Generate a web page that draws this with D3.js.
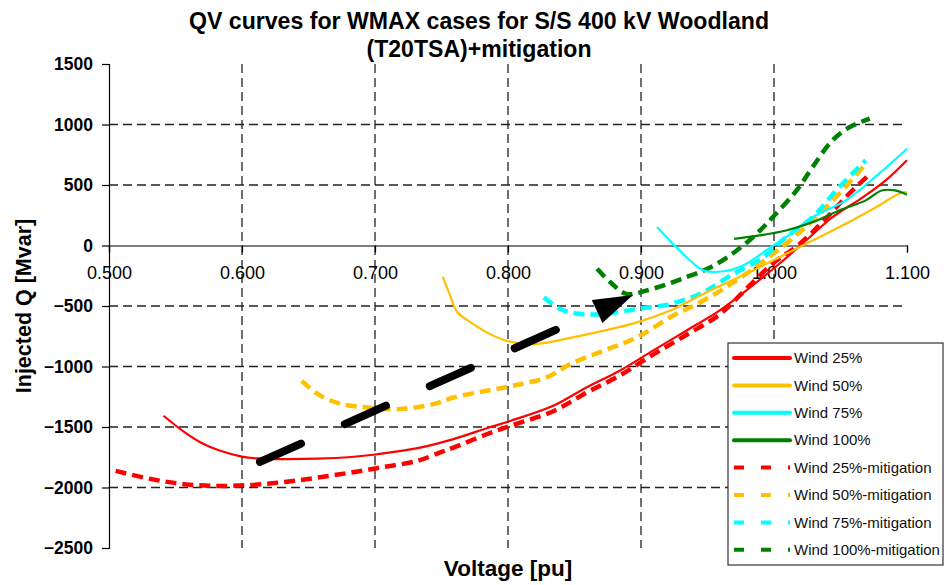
<!DOCTYPE html>
<html>
<head>
<meta charset="utf-8">
<script src="https://cdn.jsdelivr.net/npm/d3@7"></script>
<style>
    body { margin: 0; background: #fff; }
    svg { font-family: "Liberation Sans", Arial, sans-serif; }
</style>
</head>
<body>
<div class="viz"></div>
<script>
// QV curves (voltage in pu, Q in Mvar)

const seriesNames = [
    "Wind 25%", "Wind 50%", "Wind 75%", "Wind 100%",
    "Wind 25%-mitigation", "Wind 50%-mitigation", "Wind 75%-mitigation", "Wind 100%-mitigation",
];
const seriesColors = ["#ff0000", "#ffc000", "#00ffff", "#008000", "#ff0000", "#ffc000", "#00ffff", "#008000"];

const wind25_v = [0.541, 0.557, 0.570, 0.582, 0.600, 0.612, 0.632, 0.657, 0.682, 0.702, 0.732, 0.759, 0.784, 0.802, 0.834, 0.859, 0.884, 0.909, 0.934, 0.959, 0.979, 1.004, 1.024, 1.044, 1.067, 1.084, 1.100];
const wind25_q = [-1407, -1545, -1635, -1690, -1745, -1760, -1766, -1762, -1748, -1725, -1675, -1600, -1510, -1449, -1325, -1173, -1035, -869, -704, -538, -373, -151, 41, 234, 400, 538, 704];

const wind50_v = [0.751, 0.756, 0.762, 0.772, 0.784, 0.797, 0.809, 0.822, 0.847, 0.872, 0.897, 0.922, 0.947, 0.979, 1.004, 1.029, 1.054, 1.079, 1.094, 1.100];
const wind50_q = [-257, -400, -552, -635, -718, -781, -809, -814, -764, -704, -635, -538, -400, -234, -97, 41, 180, 331, 428, 441];

const wind75_v = [0.912, 0.924, 0.937, 0.947, 0.962, 0.979, 0.994, 1.009, 1.029, 1.054, 1.079, 1.100];
const wind75_q = [152, 14, -124, -207, -213, -152, -41, 69, 234, 373, 594, 800];

const wind100_v = [0.970, 0.989, 1.009, 1.029, 1.049, 1.069, 1.081, 1.091, 1.100];
const wind100_q = [55, 83, 124, 193, 290, 373, 455, 455, 420];

const wind25m_v = [0.505, 0.532, 0.557, 0.582, 0.607, 0.632, 0.657, 0.682, 0.707, 0.732, 0.749, 0.759, 0.784, 0.802, 0.834, 0.859, 0.884, 0.909, 0.934, 0.959, 0.979, 1.000, 1.018, 1.037, 1.054, 1.072];
const wind25m_q = [-1863, -1931, -1973, -1987, -1979, -1954, -1918, -1876, -1830, -1780, -1710, -1670, -1560, -1490, -1370, -1217, -1075, -902, -740, -571, -360, -140, 0, 200, 400, 590];

const wind50m_v = [0.645, 0.657, 0.675, 0.695, 0.719, 0.744, 0.759, 0.784, 0.804, 0.829, 0.847, 0.872, 0.897, 0.922, 0.947, 0.975, 1.009, 1.029, 1.049, 1.069];
const wind50m_q = [-1118, -1228, -1311, -1339, -1352, -1311, -1256, -1200, -1159, -1090, -979, -869, -759, -593, -455, -265, 14, 207, 428, 676];

const wind75m_v = [0.827, 0.839, 0.854, 0.872, 0.897, 0.922, 0.947, 0.967, 0.992, 1.009, 1.029, 1.049, 1.069];
const wind75m_q = [-428, -524, -566, -566, -524, -483, -386, -250, -97, 69, 234, 483, 704];

const wind100m_v = [0.867, 0.877, 0.889, 0.904, 0.934, 0.954, 0.972, 0.987, 0.999, 1.017, 1.029, 1.044, 1.057, 1.072];
const wind100m_q = [-193, -304, -400, -373, -262, -170, -41, 97, 234, 455, 648, 869, 979, 1049];

const xTicks = [0.5, 0.6, 0.7, 0.8, 0.9, 1.0, 1.1];
const yTicks = [1500, 1000, 500, 0, -500, -1000, -1500, -2000, -2500];

// black arrow annotation (data coords)
const arrowLine = [[0.6135, -1789], [0.867, -545]];
const arrowHead = [[0.863, -450], [0.894, -409], [0.871, -640]];

const seriesV = [wind25_v, wind50_v, wind75_v, wind100_v, wind25m_v, wind50m_v, wind75m_v, wind100m_v];
const seriesQ = [wind25_q, wind50_q, wind75_q, wind100_q, wind25m_q, wind50m_q, wind75m_q, wind100m_q];

var width = 947,
    height = 585,
    plot = { left: 109, right: 907, top: 64, bottom: 548 };

var x = d3.scaleLinear().domain([0.5, 1.1]).range([plot.left, plot.right]);
var y = d3.scaleLinear().domain([-2500, 1500]).range([plot.bottom, plot.top]);

var svg = d3
    .select(".viz")
    .append("svg")
    .attr("width", width)
    .attr("height", height);

/**
 * Title
 */
svg.append("text")
    .attr("x", 479)
    .attr("y", 29)
    .attr("text-anchor", "middle")
    .attr("font-size", 23.5)
    .attr("font-weight", "bold")
    .attr("textLength", 580)
    .attr("lengthAdjust", "spacingAndGlyphs")
    .text("QV curves for WMAX cases for S/S 400 kV Woodland");

svg.append("text")
    .attr("x", 479)
    .attr("y", 57)
    .attr("text-anchor", "middle")
    .attr("font-size", 23.5)
    .attr("font-weight", "bold")
    .attr("textLength", 225)
    .attr("lengthAdjust", "spacingAndGlyphs")
    .text("(T20TSA)+mitigation");

/**
 * Gridlines
 */
var grid = svg.append("g").attr("class", "grid");
grid.selectAll("line.vg")
    .data(xTicks.filter((d) => d > 0.5 && d < 1.1))
    .enter()
    .append("line")
    .attr("x1", (d) => x(d))
    .attr("x2", (d) => x(d))
    .attr("y1", plot.top)
    .attr("y2", plot.bottom)
    .attr("stroke", "#222")
    .attr("stroke-width", 1.3)
    .attr("stroke-dasharray", "9,5");

grid.selectAll("line.hg")
    .data(yTicks.filter((d) => d !== 0 && d < 1500 && d > -2500))
    .enter()
    .append("line")
    .attr("x1", plot.left)
    .attr("x2", plot.right)
    .attr("y1", (d) => y(d))
    .attr("y2", (d) => y(d))
    .attr("stroke", "#222")
    .attr("stroke-width", 1.3)
    .attr("stroke-dasharray", "9,5");

/**
 * Axes
 */
var yAxis = svg.append("g")
    .attr("transform", `translate(${plot.left},0)`)
    .call(d3.axisLeft(y).tickValues(yTicks).tickSize(7).tickPadding(9).tickFormat(d3.format("d")));

yAxis.selectAll("text")
    .attr("font-size", 17.5)
    .attr("font-weight", "bold")
    .attr("fill", "#000")
    .attr("font-family", "Liberation Sans, Arial, sans-serif");

var xAxis = svg.append("g")
    .attr("transform", `translate(0,${y(0)})`)
    .call(d3.axisBottom(x).tickValues(xTicks).tickSize(7).tickPadding(14).tickFormat(d3.format(".3f")));

xAxis.selectAll("text")
    .attr("font-size", 18)
    .attr("fill", "#000")
    .attr("font-family", "Liberation Sans, Arial, sans-serif");

svg.selectAll(".domain, .tick line").attr("stroke", "#000").attr("stroke-width", 1.2);

svg.append("text")
    .attr("transform", "translate(31,306) rotate(-90)")
    .attr("text-anchor", "middle")
    .attr("font-size", 21.5)
    .attr("font-weight", "bold")
    .text("Injected Q [Mvar]");

svg.append("text")
    .attr("x", 508)
    .attr("y", 576)
    .attr("text-anchor", "middle")
    .attr("font-size", 22.5)
    .attr("font-weight", "bold")
    .text("Voltage [pu]");

/**
 * Curves
 */
var line = d3.line()
    .x((d) => x(d[0]))
    .y((d) => y(d[1]))
    .curve(d3.curveCatmullRom.alpha(0.5));

var curves = svg.append("g").attr("id", "curves");
// draw solid curves over dashed ones, like the original
[4, 5, 6, 7, 0, 1, 2, 3].forEach((i) => {
    var pts = seriesV[i].map((v, k) => [v, seriesQ[i][k]]);
    var dashed = i >= 4;
    curves.append("path")
        .datum(pts)
        .attr("d", line)
        .attr("fill", "none")
        .attr("stroke", seriesColors[i])
        .attr("stroke-width", dashed ? 4.5 : 2.2)
        .attr("stroke-dasharray", dashed ? "11,6" : null);
});

/**
 * Arrow
 */
svg.append("path")
    .datum(arrowLine)
    .attr("d", d3.line().x((d) => x(d[0])).y((d) => y(d[1])))
    .attr("fill", "none")
    .attr("stroke", "#000")
    .attr("stroke-width", 8)
    .attr("stroke-linecap", "round")
    .attr("stroke-dasharray", "45,48");

svg.append("path")
    .attr("d", d3.line().x((p) => x(p[0])).y((p) => y(p[1]))(arrowHead) + "Z")
    .attr("fill", "#000");

/**
 * Legend
 */
var legend = svg.append("g").attr("transform", "translate(728,343)");
legend.append("rect")
    .attr("width", 215)
    .attr("height", 222)
    .attr("fill", "#fff")
    .attr("stroke", "#333")
    .attr("stroke-width", 1.2);

var rows = legend.selectAll("g.row")
    .data(seriesNames)
    .enter()
    .append("g")
    .attr("transform", (d, i) => `translate(0,${15 + i * 27.4})`);

rows.append("line")
    .attr("x1", 6)
    .attr("x2", 62)
    .attr("stroke", (d, i) => seriesColors[i])
    .attr("stroke-width", 4)
    .attr("stroke-linecap", (d, i) => (i < 4 ? "round" : "butt"))
    .attr("stroke-dasharray", (d, i) => (i < 4 ? null : "10,17"));

rows.append("text")
    .attr("x", 66)
    .attr("dy", "0.35em")
    .attr("font-size", 15)
    .attr("fill", "#111")
    .text((d) => d);
</script>
</body>
</html>
